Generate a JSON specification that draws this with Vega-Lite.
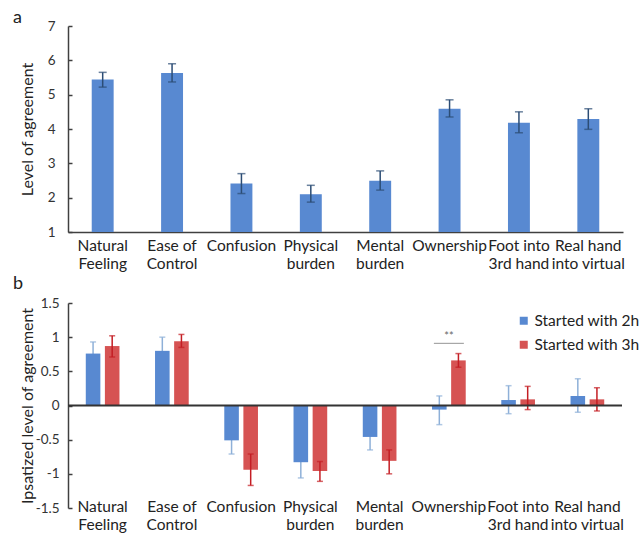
{
  "$schema": "https://vega.github.io/schema/vega-lite/v6.json",
  "background": "white",
  "padding": {"left": 13, "top": 9, "right": 0, "bottom": 0},
  "config": {
    "font": "Lato",
    "view": {"stroke": null},
    "axis": {"grid": false, "labelColor": "#333333", "titleColor": "#222222", "domainColor": "#404040", "tickColor": "#404040", "labelFont": "Lato", "titleFont": "Lato", "titleFontWeight": "normal", "labelOverlap": false, "labelFlush": false},
    "legend": {"labelFont": "Lato"},
    "title": {"fontWeight": "normal", "fontSize": 18, "color": "#222222", "font": "Lato"}
  },
  "datasets": {
    "panelA": [
      {"item": "Natural Feeling", "mean": 5.44, "lo": 5.22, "hi": 5.65},
      {"item": "Ease of Control", "mean": 5.63, "lo": 5.37, "hi": 5.9},
      {"item": "Confusion", "mean": 2.41, "lo": 2.12, "hi": 2.7},
      {"item": "Physical burden", "mean": 2.1, "lo": 1.87, "hi": 2.36},
      {"item": "Mental burden", "mean": 2.49, "lo": 2.22, "hi": 2.78},
      {"item": "Ownership", "mean": 4.59, "lo": 4.35, "hi": 4.85},
      {"item": "Foot into 3rd hand", "mean": 4.18, "lo": 3.89, "hi": 4.5},
      {"item": "Real hand into virtual", "mean": 4.29, "lo": 3.99, "hi": 4.59}
    ],
    "panelB": [
      {"item": "Natural Feeling", "group": "Started with 2h", "mean": 0.76, "lo": 0.59, "hi": 0.93},
      {"item": "Natural Feeling", "group": "Started with 3h", "mean": 0.87, "lo": 0.71, "hi": 1.02},
      {"item": "Ease of Control", "group": "Started with 2h", "mean": 0.8, "lo": 0.6, "hi": 1.0},
      {"item": "Ease of Control", "group": "Started with 3h", "mean": 0.94, "lo": 0.85, "hi": 1.04},
      {"item": "Confusion", "group": "Started with 2h", "mean": -0.51, "lo": -0.71, "hi": -0.31},
      {"item": "Confusion", "group": "Started with 3h", "mean": -0.94, "lo": -1.17, "hi": -0.71},
      {"item": "Physical burden", "group": "Started with 2h", "mean": -0.83, "lo": -1.06, "hi": -0.6},
      {"item": "Physical burden", "group": "Started with 3h", "mean": -0.96, "lo": -1.11, "hi": -0.82},
      {"item": "Mental burden", "group": "Started with 2h", "mean": -0.46, "lo": -0.65, "hi": -0.27},
      {"item": "Mental burden", "group": "Started with 3h", "mean": -0.81, "lo": -1.0, "hi": -0.65},
      {"item": "Ownership", "group": "Started with 2h", "mean": -0.06, "lo": -0.28, "hi": 0.14},
      {"item": "Ownership", "group": "Started with 3h", "mean": 0.66, "lo": 0.56, "hi": 0.76},
      {"item": "Foot into 3rd hand", "group": "Started with 2h", "mean": 0.08, "lo": -0.12, "hi": 0.29},
      {"item": "Foot into 3rd hand", "group": "Started with 3h", "mean": 0.09, "lo": -0.06, "hi": 0.28},
      {"item": "Real hand into virtual", "group": "Started with 2h", "mean": 0.14, "lo": -0.1, "hi": 0.39},
      {"item": "Real hand into virtual", "group": "Started with 3h", "mean": 0.09, "lo": -0.08, "hi": 0.26}
    ],
    "sig": [{"item": "Ownership", "y": 0.91, "label": "**"}]
  },
  "columns": 1,
  "align": "none",
  "spacing": 3,
  "resolve": {"legend": {"color": "independent"}},
  "concat": [
    {
      "width": 555,
      "height": 206,
      "title": {"text": "a", "anchor": "start", "frame": "group", "dx": -55, "dy": 8, "offset": 0},
      "data": {"name": "panelA"},
      "encoding": {
        "x": {
          "field": "item", "type": "nominal", "sort": null,
          "scale": {"paddingInner": 0.684, "paddingOuter": 0.342},
          "axis": {"title": null, "labelAngle": 0, "labelAlign": "center", "labelBaseline": "top", "ticks": false, "domainWidth": 1.5, "labelFontSize": 15.5, "labelLineHeight": 18, "labelPadding": 6, "labelColor": "#222222",
            "labelExpr": "{'Natural Feeling': ['Natural', 'Feeling'], 'Ease of Control': ['Ease of', 'Control'], 'Confusion': ['Confusion'], 'Physical burden': ['Physical', 'burden'], 'Mental burden': ['Mental', 'burden'], 'Ownership': ['Ownership'], 'Foot into 3rd hand': ['Foot into', '3rd hand'], 'Real hand into virtual': ['Real hand', 'into virtual']}[datum.value]"}
        }
      },
      "layer": [
        {
          "mark": {"type": "bar", "color": "#5889D1"},
          "encoding": {
            "y": {"field": "mean", "type": "quantitative", "scale": {"domain": [1, 7], "nice": false, "zero": false},
              "axis": {"title": "Level of agreement", "titleFontSize": 16, "titleX": -41, "titleBaseline": "middle", "values": [1, 2, 3, 4, 5, 6, 7], "tickCount": 20, "format": "d", "labelOverlap": false, "labelFontSize": 13.5, "tickSize": -4, "labelPadding": 17, "domainWidth": 1.5, "tickWidth": 1.5}},
            "y2": {"datum": 1}
          }
        },
        {
          "mark": {"type": "rule", "color": "#2C4D75", "strokeWidth": 1.5},
          "encoding": {"y": {"field": "lo", "type": "quantitative"}, "y2": {"field": "hi"}}
        },
        {
          "transform": [{"fold": ["lo", "hi"]}],
          "mark": {"type": "tick", "color": "#2C4D75", "size": 8, "thickness": 1.5},
          "encoding": {"y": {"field": "value", "type": "quantitative"}}
        }
      ]
    },
    {
      "width": 554,
      "height": 205,
      "title": {"text": "b", "anchor": "start", "frame": "group", "dx": -55, "offset": 3},
      "layer": [
        {
          "data": {"name": "panelB"},
          "transform": [{"filter": "datum.group === 'Started with 2h'"}],
          "mark": {"type": "rule", "color": "#8EB0D8", "strokeWidth": 1.5},
          "encoding": {
            "x": {"field": "item", "type": "nominal", "sort": null},
            "xOffset": {"field": "group", "type": "nominal"},
            "y": {"field": "lo", "type": "quantitative"}, "y2": {"field": "hi"}
          }
        },
        {
          "data": {"name": "panelB"},
          "transform": [{"filter": "datum.group === 'Started with 2h'"}, {"fold": ["lo", "hi"]}],
          "mark": {"type": "tick", "color": "#8EB0D8", "size": 6, "thickness": 1.5},
          "encoding": {
            "x": {"field": "item", "type": "nominal", "sort": null},
            "xOffset": {"field": "group", "type": "nominal"},
            "y": {"field": "value", "type": "quantitative"}
          }
        },
        {
          "data": {"name": "panelB"},
          "mark": {"type": "bar"},
          "encoding": {
            "x": {
              "field": "item", "type": "nominal", "sort": null,
              "scale": {"paddingInner": 0.477, "paddingOuter": 0.2385},
              "axis": {"title": null, "labelAngle": 0, "labelAlign": "center", "labelBaseline": "top", "ticks": false, "domain": false, "labelFontSize": 15.5, "labelLineHeight": 18, "labelPadding": -9, "labelColor": "#222222",
                "labelExpr": "{'Natural Feeling': ['Natural', 'Feeling'], 'Ease of Control': ['Ease of', 'Control'], 'Confusion': ['Confusion'], 'Physical burden': ['Physical', 'burden'], 'Mental burden': ['Mental', 'burden'], 'Ownership': ['Ownership'], 'Foot into 3rd hand': ['Foot into', '3rd hand'], 'Real hand into virtual': ['Real hand', 'into virtual']}[datum.value]"}
            },
            "xOffset": {"field": "group", "type": "nominal", "scale": {"domain": ["Started with 2h", "Started with 3h"], "paddingInner": 0.237, "paddingOuter": 0.066}},
            "y": {"field": "mean", "type": "quantitative", "scale": {"domain": [-1.5, 1.5], "nice": false},
              "axis": {"title": "Ipsatized level of agreement", "titleFontSize": 16, "titleX": -41, "titleBaseline": "middle", "values": [-1.5, -1, -0.5, 0, 0.5, 1, 1.5], "tickCount": 20, "labelExpr": "'' + datum.value", "labelOverlap": false, "labelFontSize": 13.5, "tickSize": -4, "labelPadding": 13, "domainWidth": 1.5, "tickWidth": 1.5}},
            "color": {"field": "group", "type": "nominal",
              "scale": {"domain": ["Started with 2h", "Started with 3h"], "range": ["#5889D1", "#D65353"]},
              "legend": {"orient": "none", "legendX": 448, "legendY": 10, "title": null, "symbolType": "square", "symbolSize": 64, "symbolStrokeWidth": 0, "labelFontSize": 15.5, "labelColor": "#222222", "rowPadding": 7, "labelOffset": 3}}
          }
        },
        {
          "data": {"name": "panelB"},
          "transform": [{"filter": "datum.group === 'Started with 3h'"}],
          "mark": {"type": "rule", "color": "#C41E24", "strokeWidth": 1.5},
          "encoding": {
            "x": {"field": "item", "type": "nominal", "sort": null},
            "xOffset": {"field": "group", "type": "nominal"},
            "y": {"field": "lo", "type": "quantitative"}, "y2": {"field": "hi"}
          }
        },
        {
          "data": {"name": "panelB"},
          "transform": [{"filter": "datum.group === 'Started with 3h'"}, {"fold": ["lo", "hi"]}],
          "mark": {"type": "tick", "color": "#C41E24", "size": 6, "thickness": 1.5},
          "encoding": {
            "x": {"field": "item", "type": "nominal", "sort": null},
            "xOffset": {"field": "group", "type": "nominal"},
            "y": {"field": "value", "type": "quantitative"}
          }
        },
        {
          "data": {"values": [{"zero": 0}]},
          "mark": {"type": "rule", "color": "#333333", "strokeWidth": 2},
          "encoding": {"y": {"field": "zero", "type": "quantitative"}}
        },
        {
          "data": {"name": "sig"},
          "mark": {"type": "tick", "color": "#666666", "size": 30, "thickness": 1},
          "encoding": {"x": {"field": "item", "type": "nominal", "sort": null}, "y": {"field": "y", "type": "quantitative"}}
        },
        {
          "data": {"name": "sig"},
          "mark": {"type": "text", "color": "#666666", "fontSize": 11, "baseline": "bottom", "dy": -1},
          "encoding": {"x": {"field": "item", "type": "nominal", "sort": null}, "y": {"field": "y", "type": "quantitative"}, "text": {"field": "label"}}
        }
      ]
    }
  ]
}
